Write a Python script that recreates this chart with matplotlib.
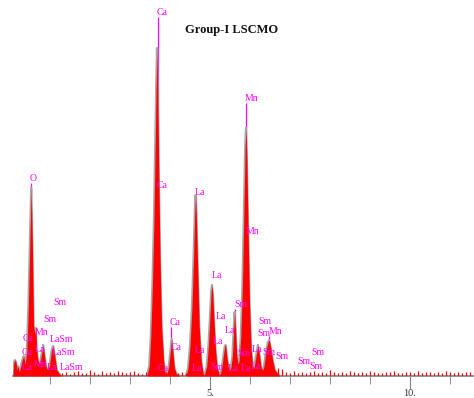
import matplotlib.pyplot as plt
import numpy as np

# EDX spectrum envelope (keV, counts)
energy = [0.075, 0.09, 0.12, 0.15, 0.18, 0.20, 0.23, 0.26, 0.30, 0.34, 0.38, 0.42, 0.46, 0.50,
          0.53, 0.56, 0.59, 0.62, 0.645, 0.67, 0.70, 0.74, 0.78, 0.83, 0.87, 0.91, 0.95, 0.99,
          1.04, 1.08, 1.12, 1.17, 1.22, 1.28,
          3.42, 3.48, 3.52, 3.56, 3.60, 3.63, 3.655, 3.675, 3.695, 3.72, 3.75, 3.79, 3.84, 3.88,
          3.92, 3.97, 4.01, 4.04, 4.07, 4.11, 4.16, 4.25,
          4.40, 4.45, 4.50, 4.55, 4.59, 4.62, 4.64, 4.66, 4.69, 4.73, 4.78, 4.83,
          4.86, 4.92, 4.96, 5.00, 5.03, 5.05, 5.07, 5.10, 5.14, 5.18, 5.23,
          5.26, 5.30, 5.34, 5.37, 5.39, 5.42, 5.46, 5.49,
          5.52, 5.56, 5.59, 5.615, 5.64, 5.67, 5.70,
          5.73, 5.77, 5.81, 5.85, 5.88, 5.90, 5.92, 5.95, 5.99, 6.03, 6.07,
          6.10, 6.15, 6.20, 6.24, 6.28, 6.32,
          6.35, 6.40, 6.45, 6.48, 6.52, 6.57, 6.62, 6.70, 6.75]
counts = [0, 120, 160, 140, 60, 100, 40, 80, 150, 200, 120, 250, 700, 1400,
          1880, 1300, 500, 420, 480, 250, 150, 120, 200, 310, 180, 80, 60, 110,
          260, 300, 200, 60, 30, 0,
          0, 100, 400, 900, 1600, 2300, 2900, 3280, 2800, 2000, 1200, 500, 150, 30,
          20, 100, 250, 370, 250, 80, 20, 0,
          0, 80, 300, 700, 1200, 1650, 1810, 1600, 1100, 500, 150, 20,
          10, 100, 300, 600, 850, 910, 820, 550, 250, 80, 10,
          20, 100, 220, 300, 310, 200, 80, 60,
          80, 200, 450, 640, 450, 200, 120,
          150, 400, 900, 1700, 2300, 2480, 2200, 1500, 700, 250, 100,
          80, 200, 310, 200, 80, 60,
          100, 250, 340, 360, 280, 150, 60, 20, 0]

# background noise spikes, 0.1 keV apart from 1.3 keV
bg_energy = np.arange(1.3, 11.65, 0.1)
bg_counts = [30, 45, 25, 40, 55, 30, 35, 60, 40, 25, 50, 35, 45, 30, 55, 40, 30, 45, 50, 35,
             25, 40, 30, 45, 35, 50, 40, 30, 45, 35, 40, 30, 45, 50, 35, 40, 30, 45, 35, 50,
             40, 30, 45, 35, 40, 50, 30, 35, 45, 30, 40, 55, 35, 60, 80, 70, 40, 30, 50, 35,
             45, 30, 40, 55, 35, 45, 30, 60, 40, 35, 45, 30, 50, 40, 35, 45, 30, 55, 40, 35,
             30, 45, 40, 50, 30, 35, 45, 40, 30, 50, 35, 45, 40, 30, 45, 35, 50, 40, 30, 45,
             35, 40, 45, 30]

# peak labels: text, energy of left edge, height of label bottom
label_text = ["Ca", "Mn", "O", "Ca", "La", "Mn", "La", "Sm", "Sm", "Sm", "La", "Ca", "Sm",
              "La", "Mn", "Sm", "Mn", "Ca", "LaSm", "La", "Ca", "La", "La", "LaSm", "Ca",
              "La", "Sm", "Sm", "Sm", "Sm", "Sm", "Sm", "Ca", "Mn", "La", "LaSm", "Ca",
              "La", "Sm", "La", "La", "La"]
label_e = [3.675, 5.875, 0.50, 3.675, 4.625, 5.90, 5.05, 1.075, 5.60, 0.825, 5.15, 4.0, 6.2,
           5.375, 0.625, 6.175, 6.475, 0.325, 1.0, 5.075, 4.025, 4.625, 0.625, 1.05, 0.30,
           6.05, 6.3, 5.675, 7.525, 6.625, 7.175, 7.475, 0.30, 0.6, 0.925, 1.25, 3.7,
           4.55, 5.0, 5.45, 5.775, 6.025]
label_h = [3590, 2730, 1930, 1860, 1790, 1400, 960, 690, 670, 520, 550, 490, 500,
           410, 390, 380, 400, 330, 320, 300, 240, 210, 220, 190, 190,
           220, 190, 180, 190, 150, 100, 50, 40, 70, 40, 40, 30,
           30, 40, 30, 30, 50]

# KLM marker lines
marker_e = [0.52, 3.69, 5.895, 4.035, 5.615, 6.48, 4.64]
marker_h = [1930, 3590, 2730, 490, 670, 400, 1790]

fig = plt.figure(figsize=(4.74, 3.98), dpi=100)
ax = fig.add_axes([13 / 474, 22 / 398, 461 / 474, 376 / 398])
ax.set_xlim(0.075, 11.6)
ax.set_ylim(0, 3760)

ax.vlines(marker_e, 0, marker_h, color="#ff00ff", lw=0.9, zorder=1)
ax.plot(energy, counts, color="#a8a8a8", lw=1.6, zorder=2)
ax.fill_between(energy, counts, color="#ff0000", lw=0, zorder=3)
ax.vlines(bg_energy, 0, bg_counts, color="#ff0000", lw=0.9, zorder=3)

for t, e, h in zip(label_text, label_e, label_h):
    ax.text(e, h, t, color="#ff00ff", fontsize=7, family="Liberation Serif",
            ha="left", va="bottom", zorder=4)

ax.text(0.475, 0.92, "Group-I LSCMO", transform=ax.transAxes, ha="center", va="center",
        fontsize=9, fontweight="bold", family="Liberation Serif", color="#111111")

for s in ["top", "left", "right"]:
    ax.spines[s].set_visible(False)
ax.spines["bottom"].set_color("#808080")
ax.spines["bottom"].set_linewidth(1.2)
ax.set_yticks([])
ax.set_xticks([5, 10])
ax.set_xticklabels(["5.", "10."])
ax.set_xticks(range(1, 12), minor=True)
ax.tick_params(axis="x", which="major", length=9, color="#808080", labelsize=7.5,
               labelcolor="#333333", pad=0.5)
ax.tick_params(axis="x", which="minor", length=6, color="#808080")
for lbl in ax.get_xticklabels():
    lbl.set_family("Liberation Serif")

fig.savefig("out.png", dpi=100)
